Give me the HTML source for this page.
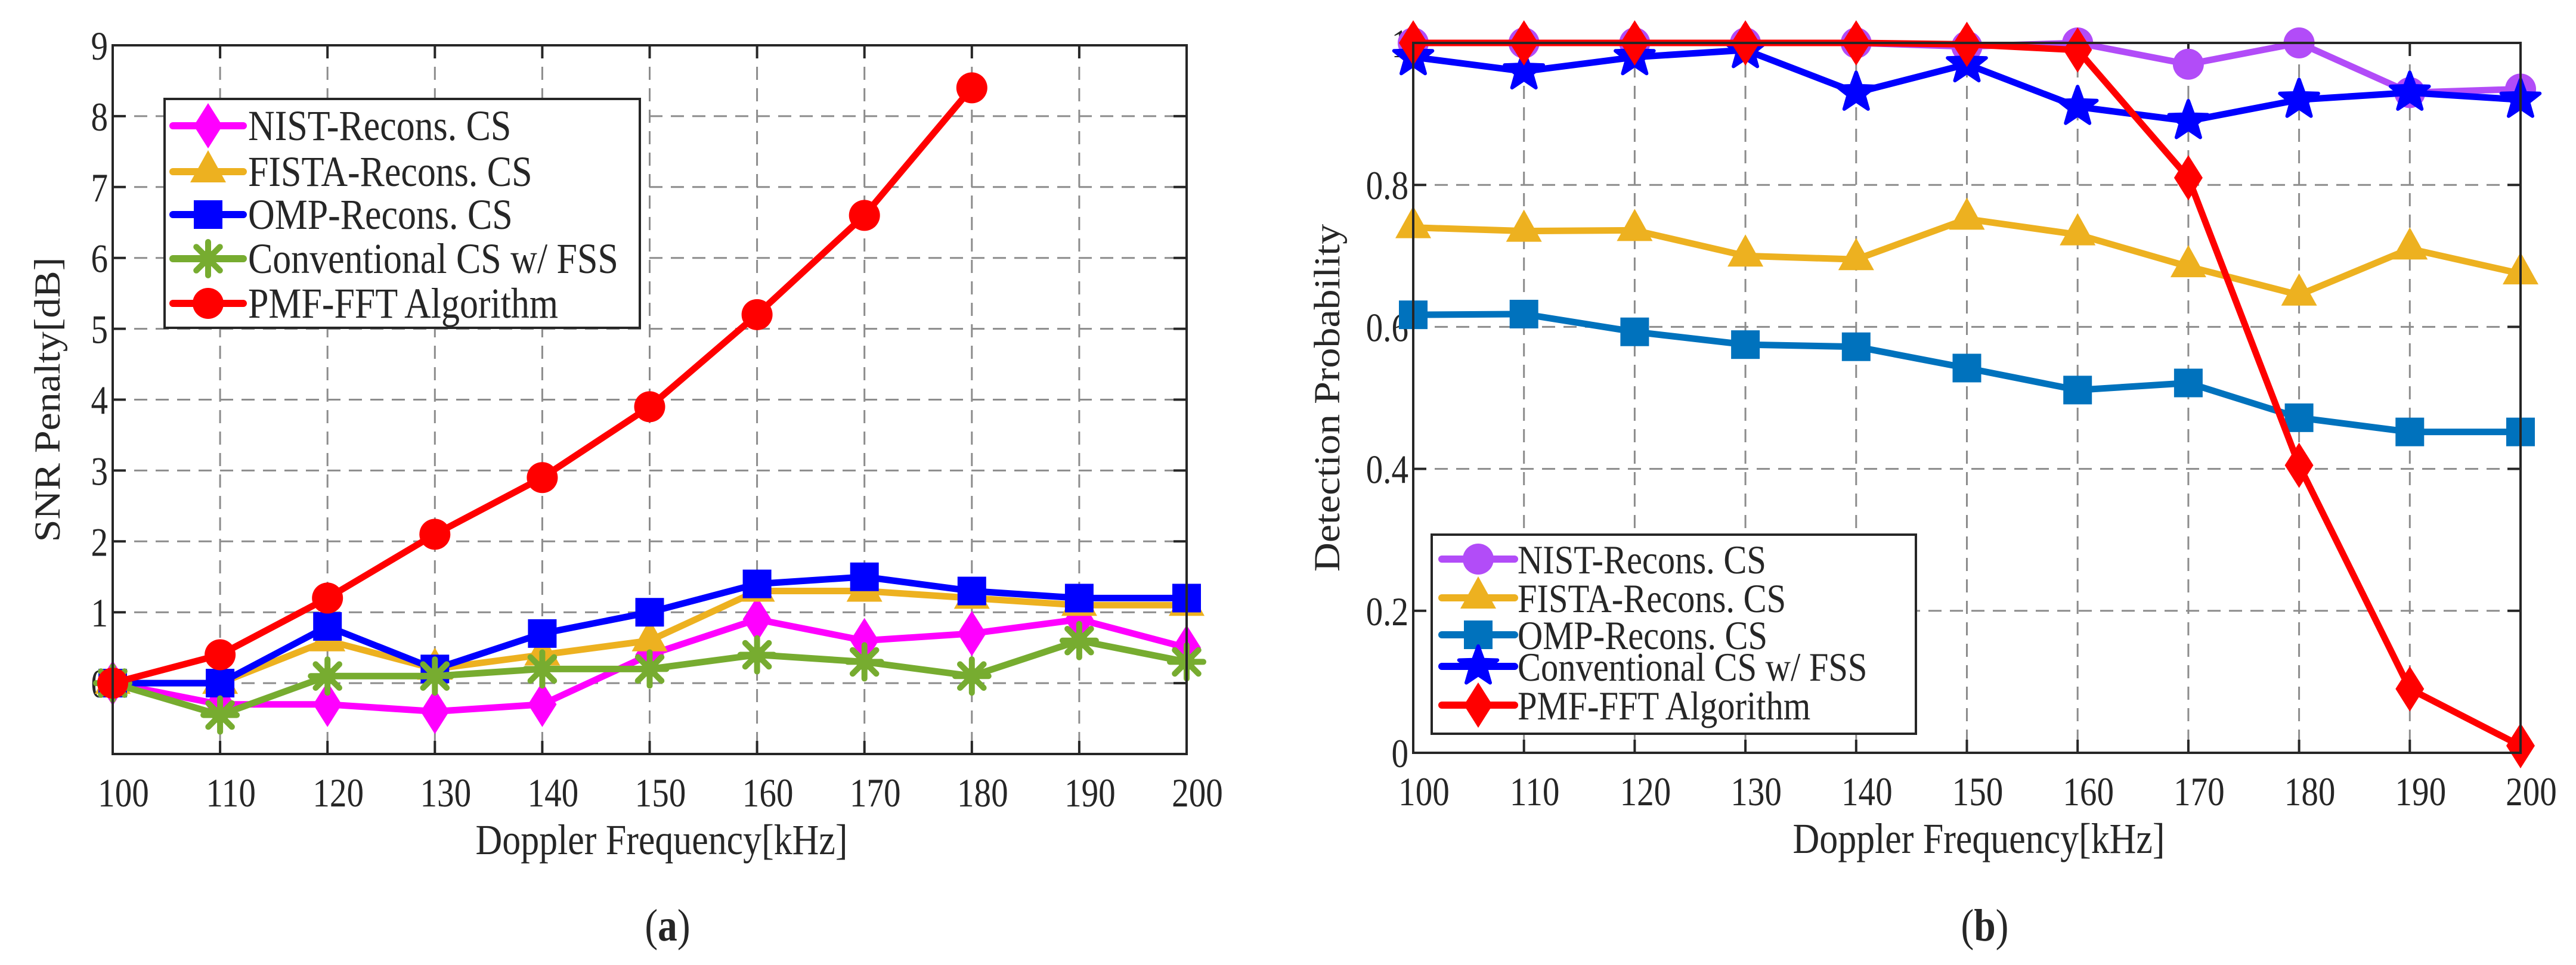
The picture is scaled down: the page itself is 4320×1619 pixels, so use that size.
<!DOCTYPE html>
<html><head><meta charset="utf-8"><style>
html,body{margin:0;padding:0;background:#fff;}
svg{display:block;}
text{font-family:"Liberation Serif",serif;fill:#262626;}
</style></head><body>
<svg id="fig" width="4320" height="1619" viewBox="0 0 4320 1619" xmlns="http://www.w3.org/2000/svg"></svg>
<script>
const categories=[100,110,120,130,140,150,160,170,180,190,200];
// Panel (a) SNR penalty
const aNist=[0,-0.3,-0.3,-0.4,-0.3,0.4,0.9,0.6,0.7,0.9,0.5];
const aFista=[0,0,0.6,0.2,0.4,0.6,1.3,1.3,1.2,1.1,1.1];
const aOmp=[0,0,0.8,0.2,0.7,1.0,1.4,1.5,1.3,1.2,1.2];
const aConv=[0,-0.45,0.1,0.1,0.2,0.2,0.4,0.3,0.1,0.6,0.3];
const aPmf=[0,0.4,1.2,2.1,2.9,3.9,5.2,6.6,8.4];
const aYTicks=[0,1,2,3,4,5,6,7,8,9];
// Panel (b) detection probability
const bNist=[1,1,1,1,1,0.995,1,0.97,1,0.93,0.935];
const bFista=[0.74,0.735,0.736,0.70,0.695,0.752,0.73,0.685,0.645,0.71,0.675];
const bOmp=[0.617,0.618,0.593,0.575,0.572,0.542,0.511,0.521,0.472,0.452,0.452];
const bConv=[0.98,0.96,0.98,0.99,0.93,0.97,0.91,0.89,0.92,0.93,0.92];
const bPmf=[1,1,1,1,1,0.998,0.99,0.81,0.405,0.09,0.01];
const bYTicks=[0,0.2,0.4,0.6,0.8,1];
const bYLabels=["0","0.2","0.4","0.6","0.8","1"];

const NS="http://www.w3.org/2000/svg";
const svg=document.getElementById('fig');
function mk(tag,attrs,parent){const e=document.createElementNS(NS,tag);for(const k in attrs)e.setAttribute(k,attrs[k]);(parent||svg).appendChild(e);return e;}
function txt(parent,x,y,size,sx,anchor,str,rot){
  const t=mk('text',{x:0,y:0,'font-size':size,'text-anchor':anchor||'start',
    transform:`translate(${x},${y})`+(rot?` rotate(${rot})`:'')+` scale(${sx},1)`},parent);
  t.textContent=str;return t;
}

function marker(g,type,x,y,color){
  let e;
  if(type==='circle'){e=mk('circle',{cx:x,cy:y,r:26,fill:color},g);}
  else if(type==='square'){e=mk('rect',{x:x-24,y:y-24,width:48,height:48,fill:color},g);}
  else if(type==='diamond'){e=mk('polygon',{points:`${x},${y-38} ${x+24},${y} ${x},${y+38} ${x-24},${y}`,fill:color},g);}
  else if(type==='triangle'){e=mk('polygon',{points:`${x},${y-36} ${x+30},${y+18} ${x-30},${y+18}`,fill:color},g);}
  else if(type==='star'){let p=[];for(let i=0;i<10;i++){const r=i%2?14:34;const a=-Math.PI/2+i*Math.PI/5;p.push((x+r*Math.cos(a)).toFixed(1)+','+(y+r*Math.sin(a)).toFixed(1));}
    e=mk('polygon',{points:p.join(' '),fill:color,stroke:color,'stroke-width':6,'stroke-linejoin':'round'},g);}
  else if(type==='asterisk'){e=mk('g',{},g);for(let i=0;i<4;i++){const a=i*Math.PI/4;mk('line',{x1:x-28*Math.cos(a),y1:y-28*Math.sin(a),x2:x+28*Math.cos(a),y2:y+28*Math.sin(a),stroke:color,'stroke-width':10,'stroke-linecap':'round'},e);}mk('circle',{cx:x,cy:y,r:14,fill:color},e);}
  
  
}

function panel(o){
  const g=mk('g',{});
  
  
  const X=v=>o.x0+(v-100)/100*(o.x1-o.x0);
  const Y=v=>o.yb+(v-o.ymin)/(o.ymax-o.ymin)*(o.yt-o.yb);
  mk('rect',{x:o.x0,y:o.yt,width:o.x1-o.x0,height:o.yb-o.yt,fill:'#fff'},g);
  const grid=mk('g',{stroke:'#8c8c8c','stroke-width':3,'stroke-dasharray':'22,14'},g);
  
  
  categories.forEach(c=>{mk('line',{x1:X(c),x2:X(c),y1:o.yt,y2:o.yb},grid);});
  o.gridY.forEach(v=>{mk('line',{x1:o.x0,x2:o.x1,y1:Y(v),y2:Y(v)},grid);});
  categories.forEach(c=>{mk('line',{x1:X(c),x2:X(c),y1:o.yb,y2:o.yb-22,stroke:'#262626','stroke-width':4},g);mk('line',{x1:X(c),x2:X(c),y1:o.yt,y2:o.yt+22,stroke:'#262626','stroke-width':4},g);
    const t=txt(g,X(c)+18,o.yb+88,68,0.84,'middle',String(c));
    
    });
  o.yTicks.forEach((v,i)=>{mk('line',{x1:o.x0,x2:o.x0+22,y1:Y(v),y2:Y(v),stroke:'#262626','stroke-width':4},g);mk('line',{x1:o.x1,x2:o.x1-22,y1:Y(v),y2:Y(v),stroke:'#262626','stroke-width':4},g);
    const t=txt(g,o.x0-8,Y(v)+24,68,0.84,'end',o.yLabels[i]);
    
    });
  o.series.forEach(s=>{
    const sg=mk('g',{},g);
    
    
    const pts=s.data.map((v,i)=>X(categories[i])+','+Y(v)).join(' ');
    mk('polyline',{points:pts,fill:'none',stroke:s.color,'stroke-width':11,'stroke-linejoin':'round','stroke-linecap':'round'},sg);
    s.data.forEach((v,i)=>marker(sg,s.m,X(categories[i]),Y(v),s.color));
  });
  mk('rect',{x:o.x0,y:o.yt,width:o.x1-o.x0,height:o.yb-o.yt,fill:'none',stroke:'#262626','stroke-width':4},g);
  const L=o.legend;
  const lg=mk('g',{},g);
  
  
  mk('rect',{x:L.x,y:L.y,width:L.w,height:L.h,fill:'#fff',stroke:'#262626','stroke-width':4},lg);
  o.series.forEach((s,i)=>{
    const eg=mk('g',{},lg);
    
    
    const y=L.rows[i];
    mk('line',{x1:L.lx0,x2:L.lx1,y1:y,y2:y,stroke:s.color,'stroke-width':12,'stroke-linecap':'round'},eg);
    marker(eg,s.m,(L.lx0+L.lx1)/2,y,s.color);
    txt(eg,L.tx,y+24,L.fs,0.86,'start',s.label);
  });
  const xl=txt(g,(o.x0+o.x1)/2+20,o.yb+168,72,0.86,'middle','Doppler Frequency[kHz]');
  
  
  const yl=mk('text',{x:0,y:0,'font-size':68,'text-anchor':'middle',transform:`translate(${o.ylx},${(o.yt+o.yb)/2}) rotate(-90) scale(1,0.9)`},g);yl.textContent=o.ytitle;
  
  
  const cap=mk('text',{x:0,y:0,'font-size':76,'text-anchor':'middle',transform:`translate(${(o.x0+o.x1)/2+30},1578) scale(0.86,1)`},g);
  cap.innerHTML='(<tspan font-weight="bold">'+o.cap+'</tspan>)';
  
  
}

panel({name:'snr-penalty-chart',x0:189,x1:1990,yt:76,yb:1265,ymin:-1,ymax:9,
  gridY:[0,1,2,3,4,5,6,7,8],yTicks:aYTicks,yLabels:aYTicks.map(String),ytitle:'SNR Penalty[dB]',ylx:100,cap:'a',
  series:[
    {id:'nist-series',label:'NIST-Recons. CS',data:aNist,color:'#ff00ff',m:'diamond'},
    {id:'fista-series',label:'FISTA-Recons. CS',data:aFista,color:'#edb120',m:'triangle'},
    {id:'omp-series',label:'OMP-Recons. CS',data:aOmp,color:'#0000ff',m:'square'},
    {id:'conventional-series',label:'Conventional CS w/ FSS',data:aConv,color:'#77ac30',m:'asterisk'},
    {id:'pmf-fft-series',label:'PMF-FFT Algorithm',data:aPmf,color:'#ff0000',m:'circle'}],
  legend:{x:276,y:166,w:797,h:384,rows:[211,288,360,434,509],lx0:290,lx1:408,tx:416,fs:72}});

panel({name:'detection-probability-chart',x0:2370,x1:4227,yt:72,yb:1263,ymin:0,ymax:1,
  gridY:[0.2,0.4,0.6,0.8],yTicks:bYTicks,yLabels:bYLabels,ytitle:'Detection Probability',ylx:2246,cap:'b',
  series:[
    {id:'nist-series',label:'NIST-Recons. CS',data:bNist,color:'#b24cf8',m:'circle'},
    {id:'fista-series',label:'FISTA-Recons. CS',data:bFista,color:'#edb120',m:'triangle'},
    {id:'omp-series',label:'OMP-Recons. CS',data:bOmp,color:'#0072bd',m:'square'},
    {id:'conventional-series',label:'Conventional CS w/ FSS',data:bConv,color:'#0000ff',m:'star'},
    {id:'pmf-fft-series',label:'PMF-FFT Algorithm',data:bPmf,color:'#ff0000',m:'diamond'}],
  legend:{x:2401,y:897,w:812,h:334,rows:[938,1003,1065,1118,1183],lx0:2418,lx1:2540,tx:2545,fs:68}});
</script>
</body></html>
